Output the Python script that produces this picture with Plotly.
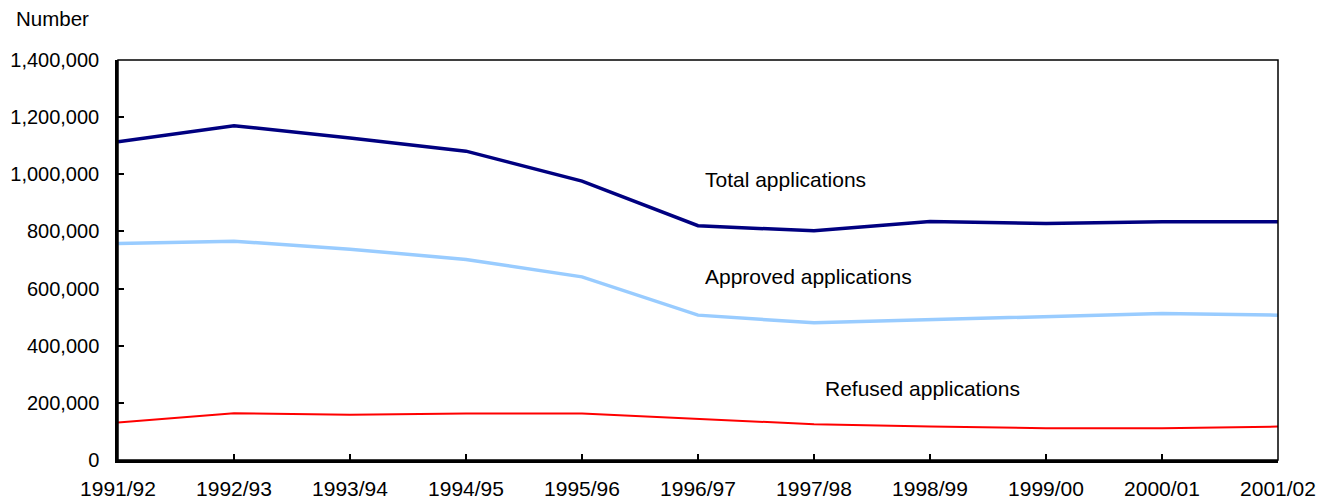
import plotly.graph_objects as go

years = ["1991/92", "1992/93", "1993/94", "1994/95", "1995/96", "1996/97",
         "1997/98", "1998/99", "1999/00", "2000/01", "2001/02"]
total = [1114000, 1170000, 1127000, 1081000, 976000, 820000,
         802000, 835000, 828000, 834000, 834000]
approved = [758000, 766000, 738000, 702000, 641000, 507000,
            480000, 490000, 501000, 513000, 507000]
refused = [131000, 164000, 158000, 163000, 163000, 143000,
           125000, 117000, 111000, 111000, 117000]

FONT = "Liberation Sans, Arial, sans-serif"
FS = 21

fig = go.Figure()
fig.add_trace(go.Scatter(x=years, y=total, mode="lines", name="Total applications",
                         line=dict(color="#000080", width=3.5)))
fig.add_trace(go.Scatter(x=years, y=approved, mode="lines", name="Approved applications",
                         line=dict(color="#99CCFF", width=3.5)))
fig.add_trace(go.Scatter(x=years, y=refused, mode="lines", name="Refused applications",
                         line=dict(color="#FF0000", width=2)))

fig.update_layout(
    width=1322, height=493,
    margin=dict(l=110, r=52, t=52, b=41),
    paper_bgcolor="white", plot_bgcolor="white",
    showlegend=False,
    font=dict(family=FONT, size=FS, color="black"),
    xaxis=dict(type="category", range=[0, 10], showgrid=False, zeroline=False,
               automargin=False,
               showline=True, linecolor="black", linewidth=2.5,
               ticks="inside", ticklen=6, tickwidth=1.5, tickcolor="black",
               ticklabelstandoff=8,
               tickfont=dict(family=FONT, size=FS, color="black")),
    yaxis=dict(range=[0, 1400000], dtick=200000, tickformat=",d",
               showgrid=False, zeroline=False, automargin=False,
               showline=True, linecolor="black", linewidth=2.5,
               ticks="inside", ticklen=6, tickwidth=1.5, tickcolor="black",
               ticklabelstandoff=12,
               tickfont=dict(family=FONT, size=20, color="black")),
    shapes=[dict(type="rect", xref="paper", yref="paper", x0=0, x1=1, y0=0, y1=1,
                 line=dict(color="black", width=1.5), layer="above")],
    annotations=[
        dict(text="Number", xref="paper", yref="paper", x=-104/1160, y=1.1025,
             xanchor="left", yanchor="middle", showarrow=False,
             font=dict(family=FONT, size=20.5, color="black")),
        dict(text="Total applications", xref="paper", yref="paper", x=0.504, y=0.7025,
             xanchor="left", yanchor="middle", showarrow=False,
             font=dict(family=FONT, size=FS, color="black")),
        dict(text="Approved applications", xref="paper", yref="paper", x=0.504, y=0.46,
             xanchor="left", yanchor="middle", showarrow=False,
             font=dict(family=FONT, size=FS, color="black")),
        dict(text="Refused applications", xref="paper", yref="paper", x=0.608, y=0.18,
             xanchor="left", yanchor="middle", showarrow=False,
             font=dict(family=FONT, size=FS, color="black")),
    ],
)

fig.write_html("out.html")
